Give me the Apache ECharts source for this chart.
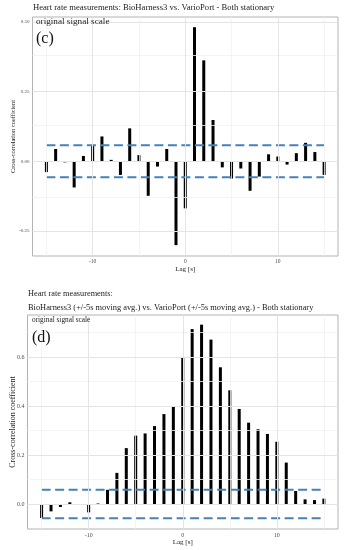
<!DOCTYPE html>
<html>
<head>
<meta charset="utf-8">
<style>
html,body{margin:0;padding:0;background:#fff;}
#main{width:345px;height:550px;}
</style>
<script src="https://cdn.jsdelivr.net/npm/echarts@6/dist/echarts.min.js"></script>
</head>
<body>
<div id="main"></div>
<script>
// ---- data ----
const lags = [-15,-14,-13,-12,-11,-10,-9,-8,-7,-6,-5,-4,-3,-2,-1,0,1,2,3,4,5,6,7,8,9,10,11,12,13,14,15];
const valuesC = [-0.039,0.044,-0.004,-0.094,0.019,0.055,0.089,0.005,-0.049,0.118,0.022,-0.124,-0.019,0.044,-0.301,-0.169,0.481,0.362,0.148,-0.022,-0.062,-0.026,-0.106,-0.055,0.025,0.017,-0.012,0.029,0.066,0.033,-0.049];
const valuesD = [-0.057,-0.030,-0.012,0.007,-0.004,-0.034,0.002,0.058,0.127,0.228,0.279,0.288,0.318,0.367,0.397,0.597,0.714,0.732,0.671,0.558,0.464,0.388,0.332,0.305,0.286,0.254,0.169,0.053,0.019,0.016,0.022];
const confC = 0.057;
const confD = 0.058;
const xTicks = [-10,0,10];
const xMinor = [-15,-5,5,15];
const yTicksC = [-0.25,0,0.25,0.5];
const yMinorC = [-0.125,0.125,0.375];
const yTicksD = [0,0.2,0.4,0.6];
const yMinorD = [0.1,0.3,0.5,0.7];
const titleC = 'Heart rate measurements: BioHarness3 vs. VarioPort - Both stationary';
const titleD1 = 'Heart rate measurements:';
const titleD2 = 'BioHarness3 (+/-5s moving avg.) vs. VarioPort (+/-5s moving avg.) - Both stationary';
const stripText = 'original signal scale';
const yName = 'Cross-correlation coefficient';
const xName = 'Lag [s]';

// ---- build ----
const SERIF = 'Liberation Serif';
const chart = echarts.init(document.getElementById('main'), null, {renderer:'canvas'});

function pairs(vals){ return lags.map((l,i)=>[l, vals[i]]); }
function gridLines(xs, ys, color, width){
  return [].concat(xs.map(v=>({xAxis:v})), ys.map(v=>({yAxis:v}))).map(d=>Object.assign(d,{lineStyle:{color:color,width:width,type:'solid'}}));
}
function xAxisDef(gi, fs, nameGap, nameFs){
  return {
    type:'value', gridIndex:gi, min:-16.5, max:16.5,
    splitLine:{show:false},
    axisLine:{show:false},
    axisTick:{show:true, length:2, customValues:xTicks, lineStyle:{color:'#b3b3b3', width:1}},
    axisLabel:{customValues:xTicks, fontSize:fs, color:'#4d4d4d', fontFamily:SERIF, margin:3},
    name:xName, nameLocation:'middle', nameGap:nameGap,
    nameTextStyle:{fontSize:nameFs, color:'#222', fontFamily:SERIF}
  };
}
function yAxisDef(gi, min, max, ticks, fs, nameGap, nameFs, dec){
  return {
    type:'value', gridIndex:gi, min:min, max:max,
    splitLine:{show:false},
    axisLine:{show:false},
    axisTick:{show:true, length:2, customValues:ticks, lineStyle:{color:'#b3b3b3', width:1}},
    axisLabel:{customValues:ticks, fontSize:fs, color:'#4d4d4d', fontFamily:SERIF, margin:3,
      formatter:v=>v.toFixed(dec)},
    name:yName, nameLocation:'middle', nameGap:nameGap, nameMoveOverlap:false,
    nameTextStyle:{fontSize:nameFs, color:'#222', fontFamily:SERIF}
  };
}
function gridSeries(idx, yMaj, yMin){
  return {
    type:'line', xAxisIndex:idx, yAxisIndex:idx, data:[], silent:true, z:0,
    markLine:{silent:true, symbol:['none','none'], label:{show:false}, animation:false,
      data: gridLines(xMinor, yMin, '#f1f1f1', 0.8).concat(gridLines(xTicks, yMaj, '#e4e4e4', 1))}
  };
}
function barSeries(idx, vals){
  return {type:'bar', xAxisIndex:idx, yAxisIndex:idx, data:pairs(vals), barWidth:3,
    itemStyle:{color:'#000'}, z:3, silent:true};
}
function confSeries(idx, v){
  const ls = {color:'#4682b4', width:2, type:[9,4.5]};
  return [
    {type:'line', xAxisIndex:idx, yAxisIndex:idx, data:[[-15,v],[15,v]], symbol:'none', lineStyle:ls, z:4, silent:true},
    {type:'line', xAxisIndex:idx, yAxisIndex:idx, data:[[-15,-v],[15,-v]], symbol:'none', lineStyle:ls, z:4, silent:true}
  ];
}
function txt(text, left, top, fs, color){
  return {text:text, left:left, top:top, padding:0, itemGap:0,
    textStyle:{fontSize:fs, fontWeight:'normal', color:color||'#222', fontFamily:SERIF}};
}

const option = {
  animation:false,
  backgroundColor:'#fff',
  title:[
    txt(titleC, 33, 3, 8.6),
    txt(stripText, 36, 17.5, 9.2),
    txt('(c)', 36, 31, 16, '#111'),
    txt(titleD1, 28, 289.5, 8.3),
    txt(titleD2, 28, 303.5, 8.4),
    txt(stripText, 32, 317, 7.3),
    txt('(d)', 32, 330, 16, '#111')
  ],
  grid:[
    {left:32.5, top:17, width:305.5, height:239, show:true, borderColor:'#b3b3b3', borderWidth:1, backgroundColor:'transparent', containLabel:false, outerBoundsMode:'none'},
    {left:27.5, top:315, width:310.5, height:214, show:true, borderColor:'#b3b3b3', borderWidth:1, backgroundColor:'transparent', containLabel:false, outerBoundsMode:'none'}
  ],
  xAxis:[ xAxisDef(0, 5.5, 8.5, 7), xAxisDef(1, 6, 8, 7) ],
  yAxis:[ yAxisDef(0, -0.34, 0.5176, yTicksC, 5, 16.5, 6.4, 2), yAxisDef(1, -0.102, 0.7714, yTicksD, 6, 11, 8, 1) ],
  series:[
    gridSeries(0, yTicksC, yMinorC),
    gridSeries(1, yTicksD, yMinorD),
    barSeries(0, valuesC),
    barSeries(1, valuesD)
  ].concat(confSeries(0, confC), confSeries(1, confD))
};
chart.setOption(option);
</script>
</body>
</html>
